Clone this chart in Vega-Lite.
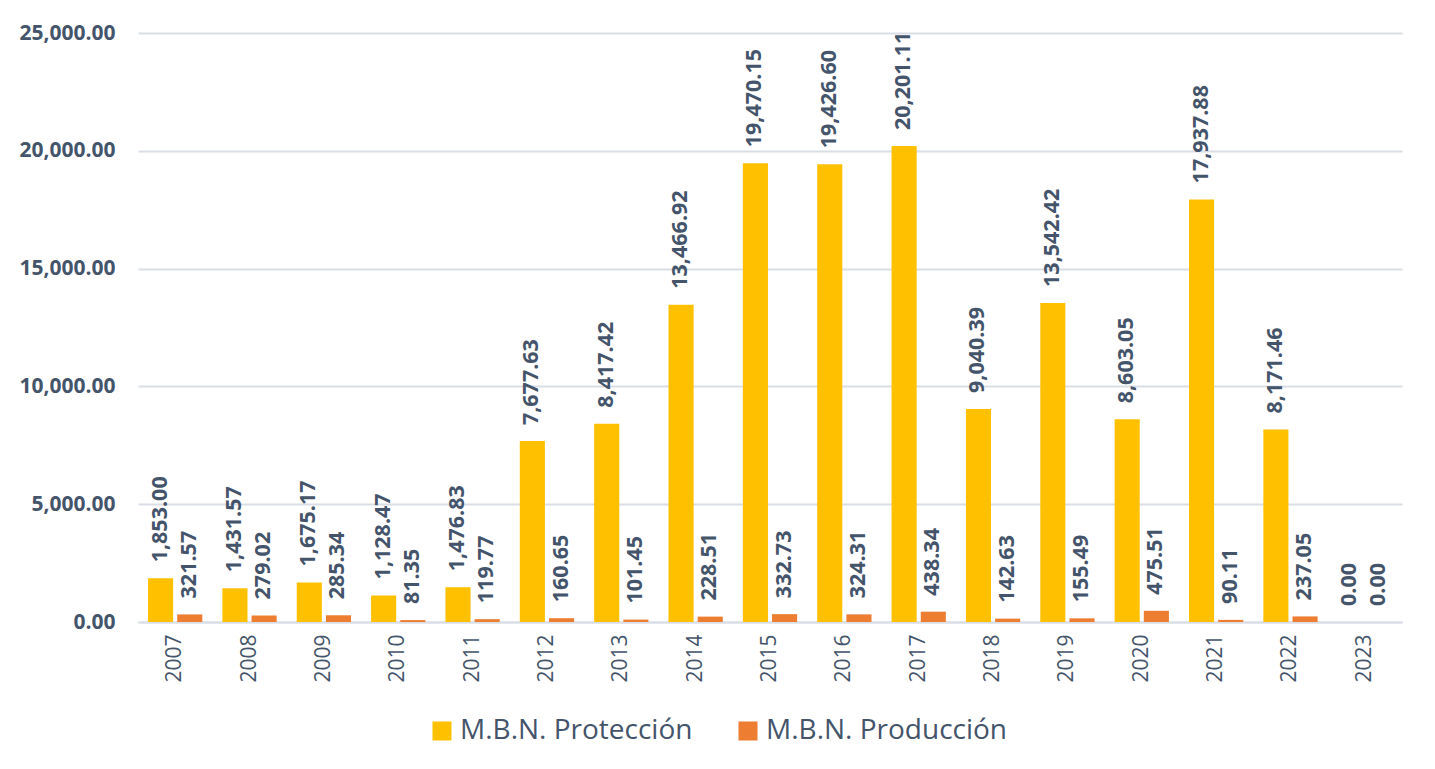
{
  "$schema": "https://vega.github.io/schema/vega-lite/v6.json",
  "autosize": "none",
  "padding": {"left": 138, "top": 33, "right": 33, "bottom": 147},
  "width": 1264,
  "height": 589,
  "background": "white",
  "config": {
    "font": "Open Sans",
    "view": {"stroke": null},
    "axis": {"labelColor": "#44546A", "titleColor": "#44546A"}
  },
  "data": {
    "values": [
      {"year": "2007", "serie": "M.B.N. Protección", "value": 1853.00},
      {"year": "2007", "serie": "M.B.N. Producción", "value": 321.57},
      {"year": "2008", "serie": "M.B.N. Protección", "value": 1431.57},
      {"year": "2008", "serie": "M.B.N. Producción", "value": 279.02},
      {"year": "2009", "serie": "M.B.N. Protección", "value": 1675.17},
      {"year": "2009", "serie": "M.B.N. Producción", "value": 285.34},
      {"year": "2010", "serie": "M.B.N. Protección", "value": 1128.47},
      {"year": "2010", "serie": "M.B.N. Producción", "value": 81.35},
      {"year": "2011", "serie": "M.B.N. Protección", "value": 1476.83},
      {"year": "2011", "serie": "M.B.N. Producción", "value": 119.77},
      {"year": "2012", "serie": "M.B.N. Protección", "value": 7677.63},
      {"year": "2012", "serie": "M.B.N. Producción", "value": 160.65},
      {"year": "2013", "serie": "M.B.N. Protección", "value": 8417.42},
      {"year": "2013", "serie": "M.B.N. Producción", "value": 101.45},
      {"year": "2014", "serie": "M.B.N. Protección", "value": 13466.92},
      {"year": "2014", "serie": "M.B.N. Producción", "value": 228.51},
      {"year": "2015", "serie": "M.B.N. Protección", "value": 19470.15},
      {"year": "2015", "serie": "M.B.N. Producción", "value": 332.73},
      {"year": "2016", "serie": "M.B.N. Protección", "value": 19426.60},
      {"year": "2016", "serie": "M.B.N. Producción", "value": 324.31},
      {"year": "2017", "serie": "M.B.N. Protección", "value": 20201.11},
      {"year": "2017", "serie": "M.B.N. Producción", "value": 438.34},
      {"year": "2018", "serie": "M.B.N. Protección", "value": 9040.39},
      {"year": "2018", "serie": "M.B.N. Producción", "value": 142.63},
      {"year": "2019", "serie": "M.B.N. Protección", "value": 13542.42},
      {"year": "2019", "serie": "M.B.N. Producción", "value": 155.49},
      {"year": "2020", "serie": "M.B.N. Protección", "value": 8603.05},
      {"year": "2020", "serie": "M.B.N. Producción", "value": 475.51},
      {"year": "2021", "serie": "M.B.N. Protección", "value": 17937.88},
      {"year": "2021", "serie": "M.B.N. Producción", "value": 90.11},
      {"year": "2022", "serie": "M.B.N. Protección", "value": 8171.46},
      {"year": "2022", "serie": "M.B.N. Producción", "value": 237.05},
      {"year": "2023", "serie": "M.B.N. Protección", "value": 0.00},
      {"year": "2023", "serie": "M.B.N. Producción", "value": 0.00}
    ]
  },
  "encoding": {
    "x": {
      "field": "year", "type": "nominal", "title": null,
      "scale": {"paddingInner": 0.27, "paddingOuter": 0.135},
      "axis": {
        "labelAngle": -90, "labelFontSize": 21, "labelPadding": 12,
        "ticks": false, "domain": true, "domainColor": "#D9DEE6", "domainWidth": 2, "grid": false
      }
    },
    "xOffset": {
      "field": "serie", "type": "nominal",
      "sort": ["M.B.N. Protección", "M.B.N. Producción"],
      "scale": {"paddingInner": 0.14, "paddingOuter": 0}
    },
    "y": {
      "field": "value", "type": "quantitative", "title": null,
      "scale": {"domain": [0, 25000], "nice": false},
      "axis": {
        "values": [0, 5000, 10000, 15000, 20000, 25000],
        "format": ",.2f", "labelFontSize": 21, "labelFontWeight": "bold",
        "labelPadding": 23, "ticks": false, "domain": false,
        "gridColor": "#D9DEE6", "gridWidth": 2
      }
    }
  },
  "layer": [
    {
      "mark": {"type": "bar"},
      "encoding": {
        "color": {
          "field": "serie", "type": "nominal",
          "sort": ["M.B.N. Protección", "M.B.N. Producción"],
          "scale": {"domain": ["M.B.N. Protección", "M.B.N. Producción"], "range": ["#FFC000", "#ED7D31"]},
          "legend": {
            "title": null, "orient": "none", "direction": "horizontal",
            "legendX": 290, "legendY": 684,
            "symbolType": "square", "symbolSize": 361, "symbolStrokeWidth": 0,
            "labelFontSize": 28, "labelLimit": 0, "labelColor": "#44546A", "columnPadding": 41, "labelOffset": 4
          }
        }
      }
    },
    {
      "mark": {"type": "text", "angle": 270, "align": "left", "baseline": "middle", "dx": 16, "fontSize": 21.5, "fontWeight": "bold", "color": "#44546A"},
      "encoding": {
        "text": {"field": "value", "type": "quantitative", "format": ",.2f"}
      }
    }
  ]
}
